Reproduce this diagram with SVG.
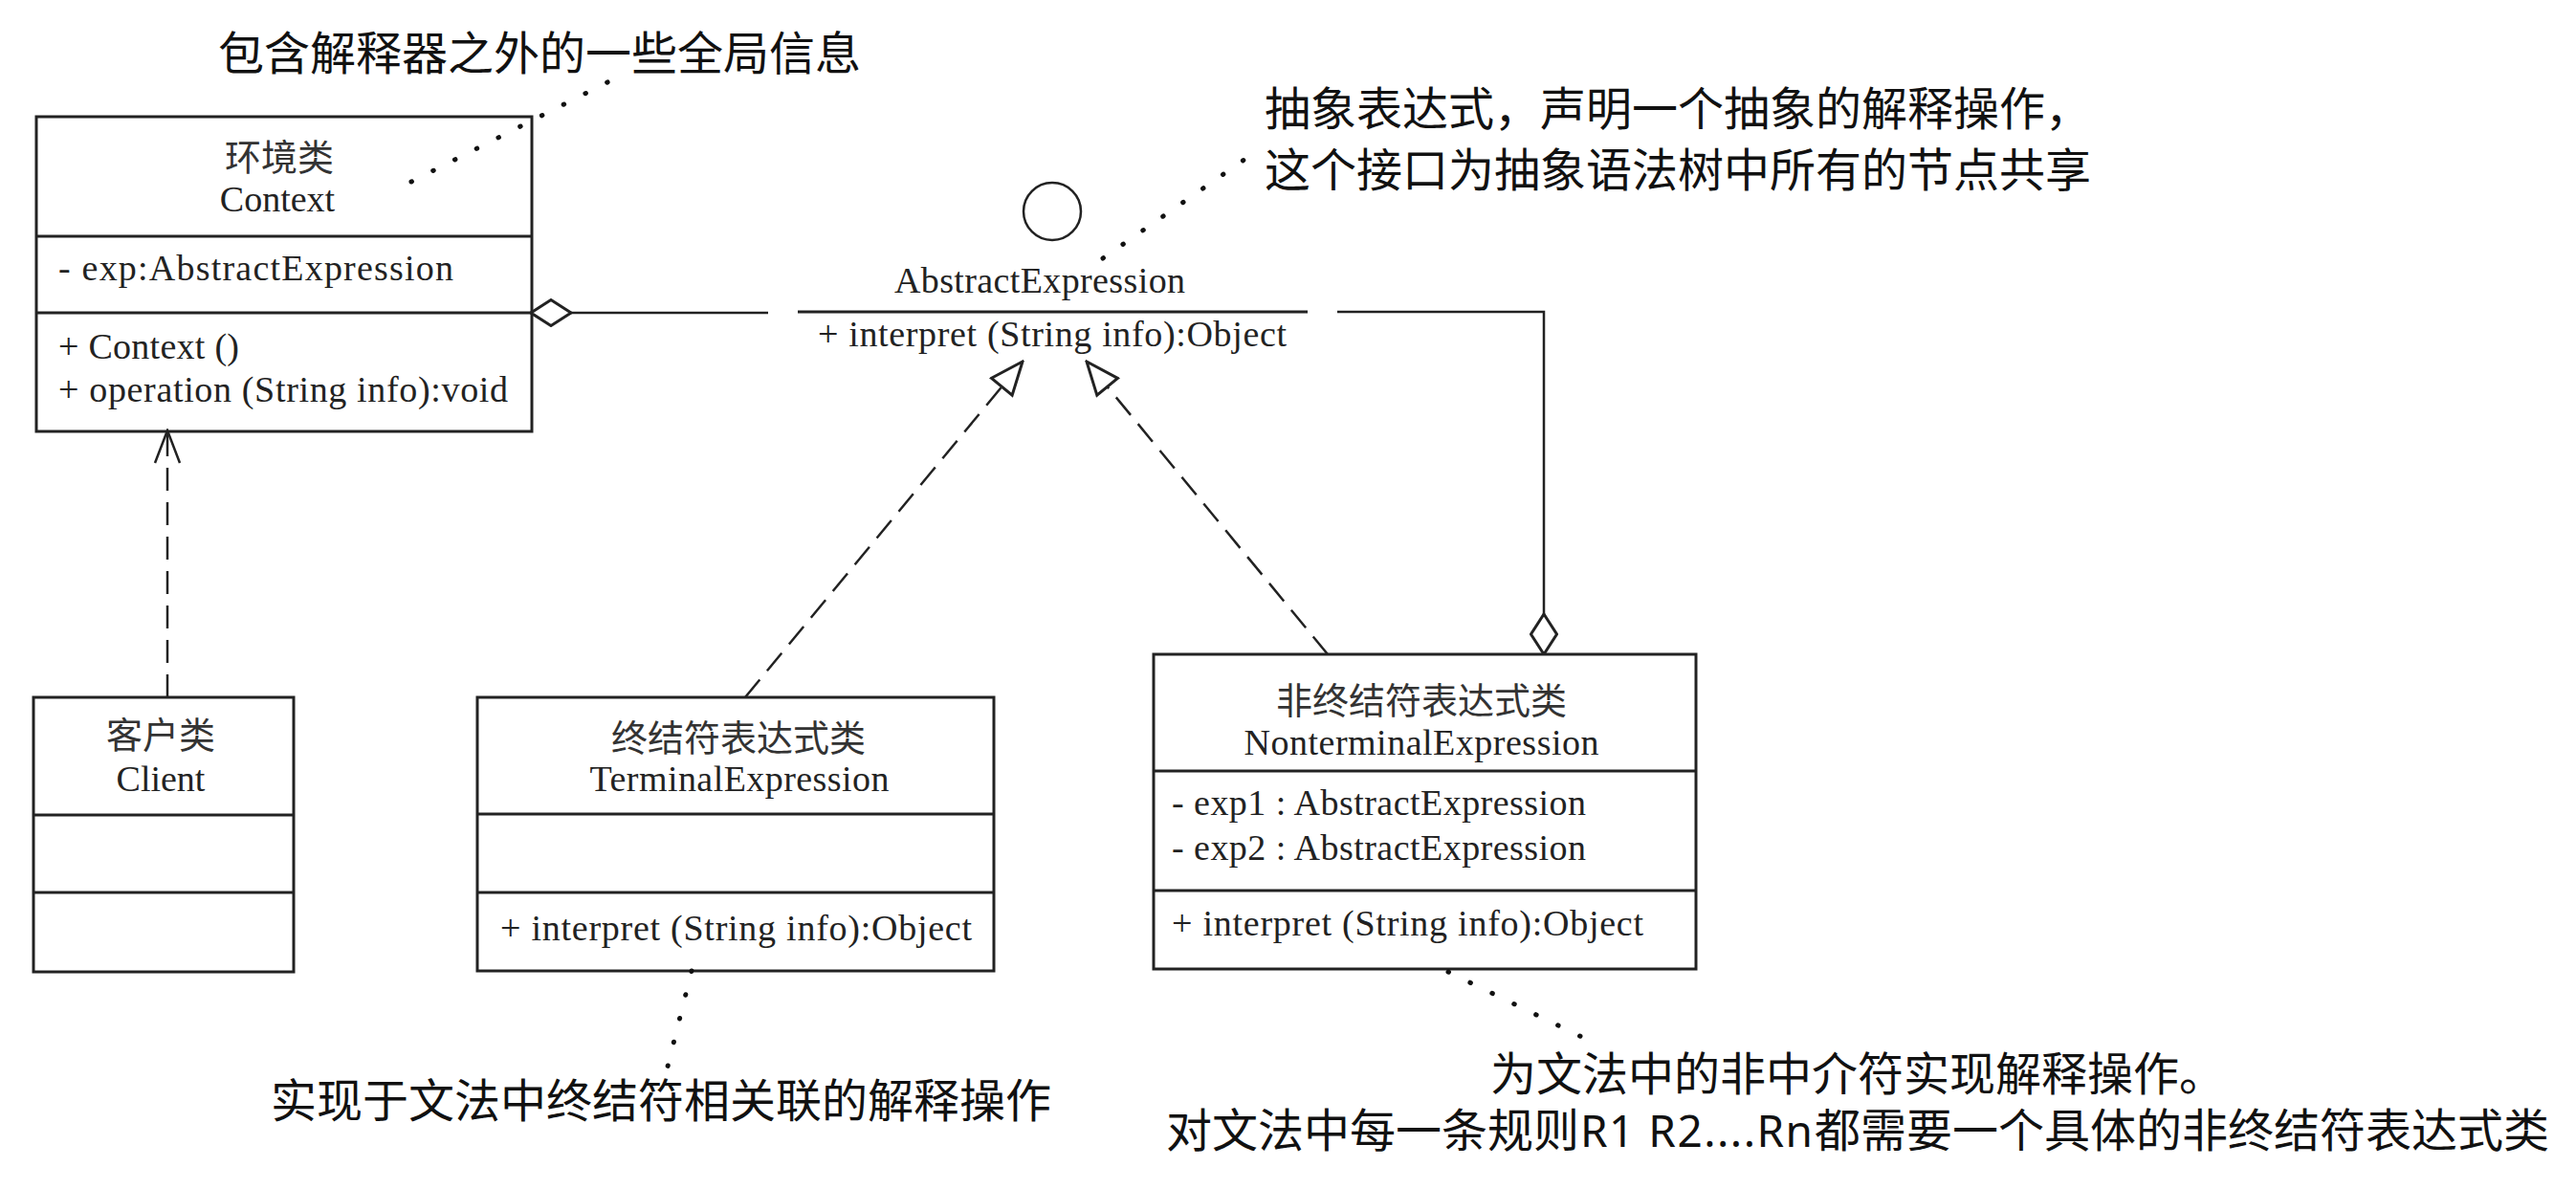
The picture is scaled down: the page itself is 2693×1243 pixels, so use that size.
<svg xmlns="http://www.w3.org/2000/svg" width="2693" height="1243" viewBox="0 0 2693 1243">
<style>
.box{fill:#fff;stroke:#222;stroke-width:3}
.div{stroke:#222;stroke-width:3}
.lat{font-family:"Liberation Serif","Times New Roman",serif;font-size:38px;fill:#222}
.cjk{font-family:"Noto Sans CJK SC","Noto Sans",sans-serif;font-size:38px;fill:#333}
.note{font-family:"Noto Sans CJK SC","Noto Sans",sans-serif;font-size:48px;fill:#111}
.mid{text-anchor:middle}
.line{fill:none;stroke:#222;stroke-width:2.5}
.dash{fill:none;stroke:#222;stroke-width:2.5;stroke-dasharray:24 12}
.dot{fill:none;stroke:#111;stroke-width:5;stroke-linecap:round;stroke-dasharray:0.5 25}
</style>
<defs>
<marker id="diamond" viewBox="0 0 46 30" refX="1" refY="15" markerWidth="46" markerHeight="30" markerUnits="userSpaceOnUse" orient="auto">
<path d="M1,15 L22,1.5 L43,15 L22,28.5 Z" fill="#fff" stroke="#222" stroke-width="3" stroke-dasharray="none"/>
</marker>
<marker id="tri" viewBox="0 0 38 32" refX="36" refY="16" markerWidth="38" markerHeight="32" markerUnits="userSpaceOnUse" orient="auto">
<path d="M2,2 L36,16 L2,30 Z" fill="#fff" stroke="#222" stroke-width="3" stroke-dasharray="none"/>
</marker>
<marker id="open" viewBox="0 0 38 30" refX="36" refY="15" markerWidth="38" markerHeight="30" markerUnits="userSpaceOnUse" orient="auto">
<path d="M2,2 L36,15 L2,28" fill="none" stroke="#222" stroke-width="2.5" stroke-dasharray="none"/>
</marker>
</defs>
<rect width="2693" height="1243" fill="#fff"/>

<g id="context">
<rect class="box" x="38" y="122" width="518" height="329"/>
<line class="div" x1="38" y1="247" x2="556" y2="247"/>
<line class="div" x1="38" y1="327" x2="556" y2="327"/>
<text class="cjk mid" x="292" y="178">环境类</text>
<text class="lat mid" x="290" y="221">Context</text>
<text class="lat" x="61" y="293" textLength="413">- exp:AbstractExpression</text>
<text class="lat" x="61" y="375" textLength="189">+ Context ()</text>
<text class="lat" x="61" y="420" textLength="470">+ operation (String info):void</text>
</g>

<g id="abstract-expression">
<circle cx="1100" cy="221" r="30" fill="none" stroke="#222" stroke-width="2.5"/>
<text class="lat mid" x="1087" y="306" textLength="304">AbstractExpression</text>
<line class="div" x1="834" y1="326" x2="1367" y2="326"/>
<text class="lat" x="855" y="362" textLength="490">+ interpret (String info):Object</text>
</g>

<g id="client">
<rect class="box" x="35" y="729" width="272" height="287"/>
<line class="div" x1="35" y1="852" x2="307" y2="852"/>
<line class="div" x1="35" y1="933" x2="307" y2="933"/>
<text class="cjk mid" x="168" y="782">客户类</text>
<text class="lat mid" x="168" y="827">Client</text>
</g>

<g id="terminal-expression">
<rect class="box" x="499" y="729" width="540" height="286"/>
<line class="div" x1="499" y1="851" x2="1039" y2="851"/>
<line class="div" x1="499" y1="933" x2="1039" y2="933"/>
<text class="cjk mid" x="772" y="785">终结符表达式类</text>
<text class="lat mid" x="773" y="827" textLength="313">TerminalExpression</text>
<text class="lat" x="523" y="983" textLength="493">+ interpret (String info):Object</text>
</g>

<g id="nonterminal-expression">
<rect class="box" x="1206" y="684" width="567" height="329"/>
<line class="div" x1="1206" y1="806" x2="1773" y2="806"/>
<line class="div" x1="1206" y1="931" x2="1773" y2="931"/>
<text class="cjk mid" x="1486" y="746">非终结符表达式类</text>
<text class="lat mid" x="1486" y="789" textLength="371">NonterminalExpression</text>
<text class="lat" x="1225" y="852" textLength="433">- exp1 : AbstractExpression</text>
<text class="lat" x="1225" y="899" textLength="433">- exp2 : AbstractExpression</text>
<text class="lat" x="1225" y="978" textLength="493">+ interpret (String info):Object</text>
</g>

<g id="notes">
<text class="note" x="228" y="73">包含解释器之外的一些全局信息</text>
<text class="note" x="1322" y="131">抽象表达式，声明一个抽象的解释操作，</text>
<text class="note" x="1322" y="195">这个接口为抽象语法树中所有的节点共享</text>
<text class="note" x="283" y="1168">实现于文法中终结符相关联的解释操作</text>
<text class="note" x="1558" y="1140">为文法中的非中介符实现解释操作。</text>
<text class="note" y="1199"><tspan x="1219">对文法中每一条规则</tspan><tspan x="1652" font-family="Noto Sans, sans-serif" font-size="46" textLength="243">R1 R2....Rn</tspan><tspan x="1897">都需要一个具体的非终结符表达式类</tspan></text>
</g>

<g id="connectors">
<path class="line" d="M555,327 L803,327" marker-start="url(#diamond)"/>
<path class="line" d="M1614,684 L1614,326 L1398,326" marker-start="url(#diamond)"/>
<path class="dash" d="M779,729 L1069,378" marker-end="url(#tri)"/>
<path class="dash" d="M1388,684 L1136,378" marker-end="url(#tri)"/>
<path class="dash" d="M175,729 L175,450" marker-end="url(#open)"/>
<path class="dot" d="M430,190 L637,85"/>
<path class="dot" d="M1153,270 L1302,166"/>
<path class="dot" d="M723,1015 L698,1115"/>
<path class="dot" d="M1514,1016 L1672,1093"/>
</g>
</svg>
